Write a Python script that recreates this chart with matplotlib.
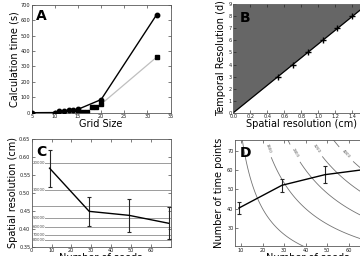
import numpy as np
import matplotlib
matplotlib.use("Agg")
import matplotlib.pyplot as plt

# ---- Panel A data ----
grid_circ = [5, 10, 11, 12, 13, 14, 15, 20, 32]
time_circ = [0, 1, 8, 12, 15, 17, 22, 85, 635]
grid_sq = [15, 16, 17, 18, 19, 20, 32]
time_sq = [3, 2, 2, 38, 40, 55, 360]

# ---- Panel B data ----
spatial_res = [0.525, 0.70, 0.875, 1.05, 1.225, 1.40]
temporal_res = [3, 4, 5, 6, 7, 8]

# ---- Panel C data ----
seeds = [9, 29, 49, 69]
spat_mean = [0.569, 0.449, 0.438, 0.416]
spat_err = [0.051, 0.041, 0.046, 0.045]
c_levels_y = [0.583, 0.509, 0.463, 0.431, 0.406, 0.384, 0.369]
c_levels_lbl = ['20000', '30000', '', '50000', '60000', '70000', '80000']

# ---- Panel D data ----
tp_mean = [40.3, 52.1, 57.6, 60.5]
tp_err = [2.9, 3.4, 4.3, 4.5]
d_levels = [800, 1600, 2400, 3200, 4000]
d_label_pos = [(22.3, 71.4), (35.2, 68.8), (45.2, 71.4), (57.7, 67.0)]

W, H = 360, 256
fig = plt.figure(figsize=(3.6, 2.56), dpi=100)

def px_axes(l, t, r, b):
    return fig.add_axes([l / W, 1 - b / H, (r - l) / W, (b - t) / H])

tick_fs = 3.6
lab_fs = 7.0
spine_c = '0.35'

def style(ax):
    for s in ax.spines.values():
        s.set_color(spine_c)
        s.set_linewidth(0.6)
    ax.tick_params(direction='in', length=2, width=0.4, labelsize=tick_fs,
                   pad=1, colors='0.1', top=True, right=True)

# Panel A
axA = px_axes(31.7, 4.7, 170.5, 112.7)
axA.plot(grid_sq, time_sq, color='0.75', lw=0.9, marker='s', ms=3.2,
         mfc='black', mec='black', zorder=2)
axA.plot(grid_circ, time_circ, color='black', lw=1.0, marker='o', ms=3.2,
         mfc='black', mec='black', zorder=3)
axA.set_xlim(5, 35)
axA.set_ylim(0, 700)
axA.set_xticks(range(5, 36, 5))
axA.set_yticks(range(0, 701, 100))
axA.set_xlabel('Grid Size', fontsize=lab_fs, labelpad=0)
axA.set_ylabel('Calculation time (s)', fontsize=lab_fs, labelpad=1)
style(axA)
axA.text(0.03, 0.96, 'A', transform=axA.transAxes, fontsize=10,
         fontweight='bold', va='top', ha='left')

# Panel B
axB = px_axes(233.3, 4.3, 369.3, 112.7)
slope = temporal_res[-1] / spatial_res[-1]
xs = np.linspace(0, 1.6, 200)
ys = np.clip(xs * slope, 0, 9)
axB.fill_between(xs, ys, 9, color='#666666', lw=0)
axB.plot(xs, xs * slope, color='black', lw=0.8)
axB.plot(spatial_res, temporal_res, ls='none', marker='+', ms=5, mew=1.0,
         color='black')
axB.set_xlim(0, 1.6)
axB.set_ylim(0, 9)
axB.set_xticks(np.arange(0, 1.61, 0.2))
axB.set_yticks(range(0, 10))
axB.set_xlabel('Spatial resolution (cm)', fontsize=lab_fs, labelpad=0)
axB.set_ylabel('Temporal Resolution (d)', fontsize=lab_fs, labelpad=2)
style(axB)
axB.text(0.05, 0.94, 'B', transform=axB.transAxes, fontsize=10,
         fontweight='bold', va='top', ha='left')

# Panel C
axC = px_axes(31.7, 139, 170.5, 247)
for yv, lb in zip(c_levels_y, c_levels_lbl):
    axC.axhline(yv, color='0.55', lw=0.6, zorder=1)
    if lb:
        axC.text(0.4, yv, lb, fontsize=2.9, color='0.3', va='center',
                 ha='left', zorder=2,
                 bbox=dict(facecolor='white', edgecolor='none', pad=0.1))
axC.errorbar(seeds, spat_mean, yerr=spat_err, color='black', lw=1.0,
             elinewidth=0.8, ecolor='0.15', capsize=1.3, capthick=0.8,
             zorder=3)
axC.set_xlim(0, 70)
axC.set_ylim(0.35, 0.65)
axC.set_xticks(range(0, 61, 10))
axC.set_yticks(np.arange(0.35, 0.651, 0.05))
axC.yaxis.set_major_formatter(matplotlib.ticker.FormatStrFormatter('%.2f'))
axC.set_xlabel('Number of seeds', fontsize=lab_fs, labelpad=0)
axC.set_ylabel('Spatial resolution (cm)', fontsize=lab_fs, labelpad=1)
style(axC)
axC.text(0.03, 0.94, 'C', transform=axC.transAxes, fontsize=10,
         fontweight='bold', va='top', ha='left')

# Panel D
axD = px_axes(235, 139.7, 381, 246.3)
gx = np.linspace(7.2, 75, 300)
gy = np.linspace(20.5, 75.7, 300)
GX, GY = np.meshgrid(gx, gy)
axD.contour(GX, GY, GX * GY, levels=d_levels[:1], colors='0.45',
            linewidths=0.6)
cs = axD.contour(GX, GY, GX * GY, levels=d_levels[1:], colors='0.45',
                 linewidths=0.6)
axD.clabel(cs, fmt='%d', fontsize=2.8, inline=True,
           manual=d_label_pos, colors='0.3')
axD.errorbar(seeds, tp_mean, yerr=tp_err, color='black', lw=1.0,
             elinewidth=0.8, ecolor='0.15', capsize=1.3, capthick=0.8,
             zorder=3)
axD.set_xlim(7.2, 75)
axD.set_ylim(20.5, 75.7)
axD.set_xticks(range(10, 71, 10))
axD.set_yticks(range(30, 71, 10))
axD.set_xlabel('Number of seeds', fontsize=lab_fs, labelpad=0)
axD.set_ylabel('Number of time points', fontsize=lab_fs, labelpad=2)
style(axD)
axD.text(0.03, 0.94, 'D', transform=axD.transAxes, fontsize=10,
         fontweight='bold', va='top', ha='left')

fig.savefig('out.png', dpi=100)
